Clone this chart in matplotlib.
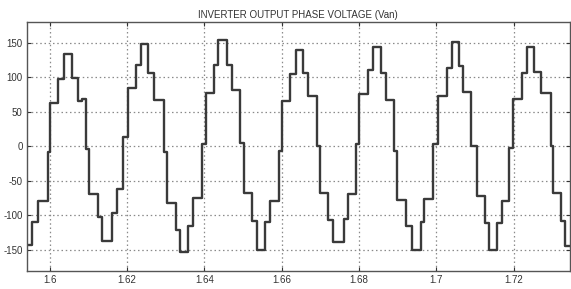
import numpy as np
import matplotlib
matplotlib.use("Agg")
import matplotlib.pyplot as plt

plt.rcParams['font.family'] = ['Liberation Sans', 'DejaVu Sans']
plt.rcParams['axes.unicode_minus'] = False

# --- step breakpoints of the phase voltage (time in s, level in V) ---
t_steps = [1.59367, 1.59556, 1.59695, 1.59953, 1.60021, 1.60227, 1.60382, 1.60574,
           1.60729, 1.60848, 1.60935, 1.61028, 1.61245, 1.61349, 1.61623, 1.61736,
           1.61907, 1.62021, 1.62227, 1.62364, 1.62537, 1.62708, 1.62966, 1.63028,
           1.63269, 1.63372, 1.63571, 1.63700, 1.63948, 1.64031, 1.64251, 1.64362,
           1.64579, 1.64708, 1.64922, 1.65026, 1.65225, 1.65354, 1.65568, 1.65698,
           1.65938, 1.66000, 1.66227, 1.66370, 1.66558, 1.66687, 1.66904, 1.66990,
           1.67204, 1.67333, 1.67618, 1.67721, 1.67912, 1.67997, 1.68222, 1.68367,
           1.68579, 1.68695, 1.68902, 1.68972, 1.69212, 1.69359, 1.69592, 1.69677,
           1.69902, 1.70031, 1.70279, 1.70393, 1.70589, 1.70693, 1.70891, 1.71039,
           1.71253, 1.71357, 1.71571, 1.71685, 1.71881, 1.71984, 1.72202, 1.72331,
           1.72527, 1.72700, 1.72959, 1.73018, 1.73217, 1.73320, 1.73476]
v_steps = [-143, -110, -79, -9, 63, 97, 134, 99,
           65, 69, -4, -69, -103, -137, -97, -62,
           14, 84, 118, 148, 106, 67, -9, -83,
           -121, -153, -115, -75, 3, 77, 118, 154,
           118, 82, 5, -68, -109, -150, -110, -79,
           -7, 65, 105, 140, 106, 72, 0, -68,
           -107, -139, -105, -69, 3, 75, 111, 143,
           106, 67, -7, -78, -116, -151, -110, -76,
           3, 72, 113, 151, 116, 78, 0, -72,
           -112, -150, -112, -79, -2, 68, 106, 144,
           108, 77, 0, -68, -108, -144, -144]

x_ticks = [1.6, 1.62, 1.64, 1.66, 1.68, 1.7, 1.72]
x_labels = ['1.6', '1.62', '1.64', '1.66', '1.68', '1.7', '1.72']
y_ticks = [-150, -100, -50, 0, 50, 100, 150]

fig = plt.figure(figsize=(5.71, 2.89), dpi=100)
ax = fig.add_axes([0.047, 0.062, 0.951, 0.862])

ax.step(t_steps, v_steps, where='post', color='#3a3a3a', lw=1.7)

ax.set_xlim(1.5941, 1.7345)
ax.set_ylim(-181, 180)
ax.set_xticks(x_ticks)
ax.set_xticklabels(x_labels)
ax.set_yticks(y_ticks)
ax.grid(True, linestyle=(0, (1.2, 2.2)), color='#8a8a8a', lw=0.9)
ax.tick_params(direction='in', top=True, right=True, length=3,
               labelsize=7, colors='#333333', pad=3)
for s in ax.spines.values():
    s.set_color('#555555')
    s.set_linewidth(1.0)

ax.set_title('INVERTER OUTPUT PHASE VOLTAGE (Van)', fontsize=7, color='#333333', pad=3)

fig.savefig('out.png', dpi=100)
